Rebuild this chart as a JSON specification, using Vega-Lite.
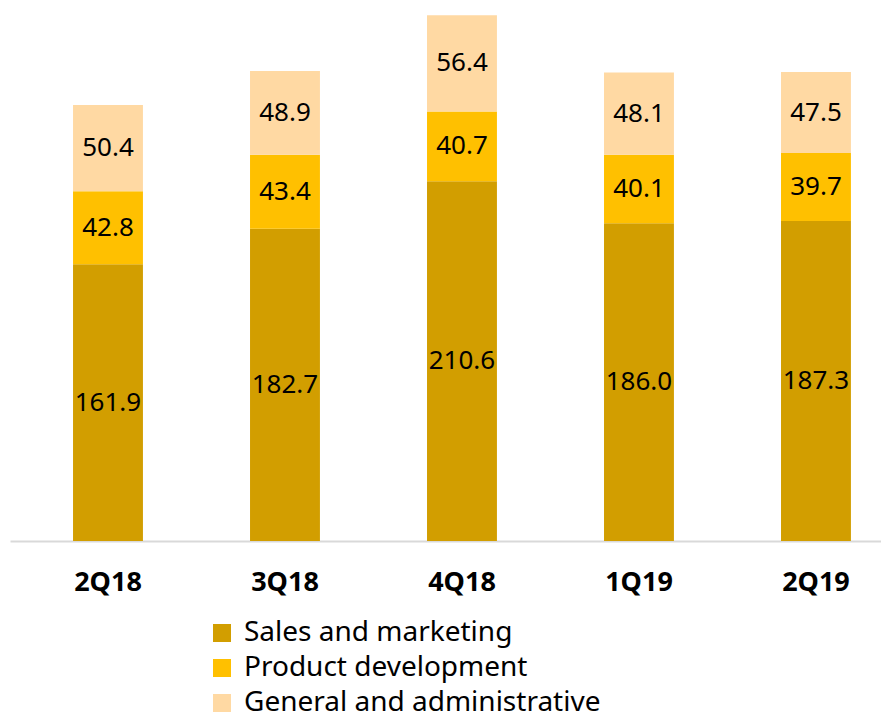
{
  "$schema": "https://vega.github.io/schema/vega-lite/v6.json",
  "width": 871,
  "height": 541,
  "autosize": {"type": "none"},
  "padding": {"left": 10, "top": 0, "right": 0, "bottom": 181},
  "background": "white",
  "config": {"view": {"stroke": null}, "font": "Noto Sans"},
  "data": {"values": [
    {"q": "2Q18", "cat": "Sales and marketing", "o": 1, "v": 161.9},
    {"q": "2Q18", "cat": "Product development", "o": 2, "v": 42.8},
    {"q": "2Q18", "cat": "General and administrative", "o": 3, "v": 50.4},
    {"q": "3Q18", "cat": "Sales and marketing", "o": 1, "v": 182.7},
    {"q": "3Q18", "cat": "Product development", "o": 2, "v": 43.4},
    {"q": "3Q18", "cat": "General and administrative", "o": 3, "v": 48.9},
    {"q": "4Q18", "cat": "Sales and marketing", "o": 1, "v": 210.6},
    {"q": "4Q18", "cat": "Product development", "o": 2, "v": 40.7},
    {"q": "4Q18", "cat": "General and administrative", "o": 3, "v": 56.4},
    {"q": "1Q19", "cat": "Sales and marketing", "o": 1, "v": 186.0},
    {"q": "1Q19", "cat": "Product development", "o": 2, "v": 40.1},
    {"q": "1Q19", "cat": "General and administrative", "o": 3, "v": 48.1},
    {"q": "2Q19", "cat": "Sales and marketing", "o": 1, "v": 187.3},
    {"q": "2Q19", "cat": "Product development", "o": 2, "v": 39.7},
    {"q": "2Q19", "cat": "General and administrative", "o": 3, "v": 47.5}
  ]},
  "transform": [
    {"stack": "v", "groupby": ["q"], "sort": [{"field": "o", "order": "ascending"}], "as": ["y0", "y1"]},
    {"calculate": "(datum.y0 + datum.y1) / 2", "as": "mid"}
  ],
  "encoding": {
    "x": {
      "field": "q", "type": "nominal", "sort": ["2Q18", "3Q18", "4Q18", "1Q19", "2Q19"],
      "scale": {"paddingInner": 0.605, "paddingOuter": 0.263, "align": 0.677},
      "axis": {"title": null, "domainColor": "#d9d9d9", "domainWidth": 2, "ticks": false,
               "labelFontSize": 27, "labelFontWeight": "bold", "labelColor": "#000000",
               "labelPadding": 28, "labelAngle": 0}
    }
  },
  "layer": [
    {
      "mark": {"type": "bar"},
      "encoding": {
        "y": {"field": "y0", "type": "quantitative", "scale": {"domain": [0, 316.6], "nice": false}, "axis": null},
        "y2": {"field": "y1"},
        "color": {
          "field": "cat", "type": "nominal",
          "scale": {"domain": ["Sales and marketing", "Product development", "General and administrative"],
                    "range": ["#D29E00", "#FFC000", "#FFD9A3"]},
          "legend": {"title": null, "orient": "none", "legendX": 198, "legendY": 619, "direction": "vertical",
                     "symbolType": "square", "symbolSize": 324, "symbolStrokeWidth": 0,
                     "labelFontSize": 28, "labelColor": "#000000", "labelLimit": 0, "rowPadding": 7, "labelOffset": 8}
        }
      }
    },
    {
      "mark": {"type": "text", "fontSize": 26, "color": "#000000", "baseline": "middle"},
      "encoding": {
        "y": {"field": "mid", "type": "quantitative", "scale": {"domain": [0, 316.6], "nice": false}},
        "text": {"field": "v", "type": "quantitative", "format": ".1f"}
      }
    }
  ]
}
